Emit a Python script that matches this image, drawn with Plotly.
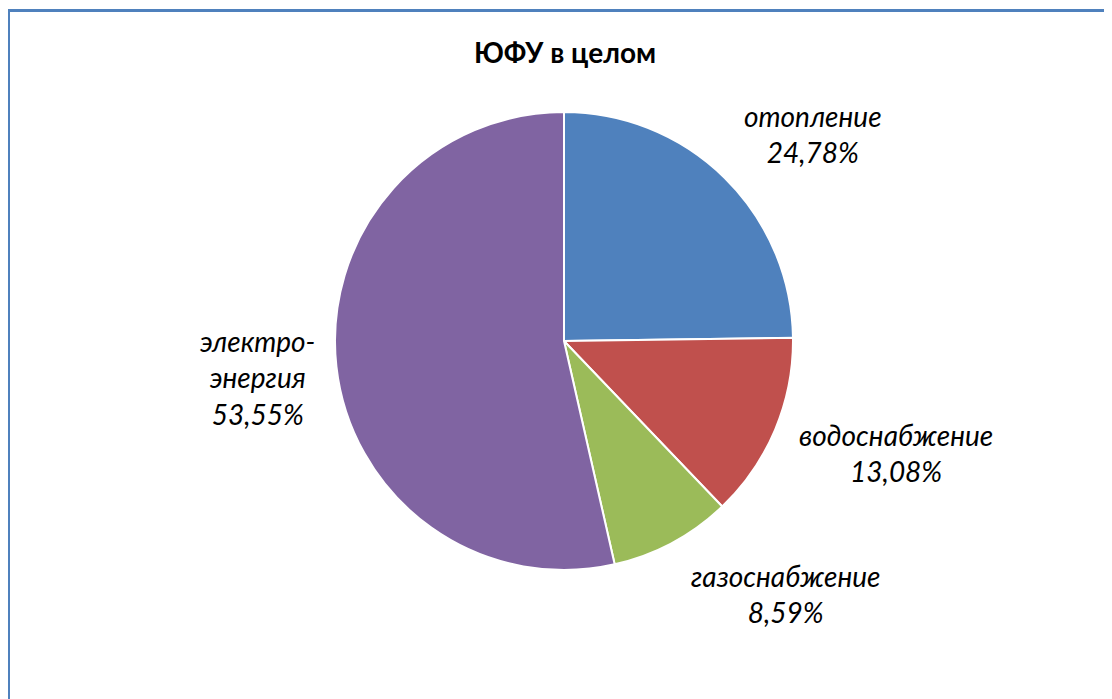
import plotly.graph_objects as go

title = "ЮФУ в целом"
categories = ["отопление", "водоснабжение", "газоснабжение", "электро-<br>энергия"]
values = [24.78, 13.08, 8.59, 53.55]
colors = ["#4F81BD", "#C0504D", "#9BBB59", "#8064A2"]

# page body has an 8px margin, so the figure is drawn 8px in and smaller
OFF = 8
W, H = 1112 - OFF, 699 - OFF
# pie geometry in page pixels (center and radius)
cx, cy, rad = 564, 341, 229


def px(x):
    return (x - OFF) / W


def py(y):
    return 1 - (y - OFF) / H


fig = go.Figure(
    go.Pie(
        labels=categories,
        values=values,
        sort=False,
        direction="clockwise",
        rotation=0,
        textinfo="none",
        hoverinfo="label+percent",
        marker=dict(colors=colors, line=dict(color="white", width=2)),
        domain=dict(x=[px(cx - rad), px(cx + rad)], y=[py(cy + rad), py(cy - rad)]),
        showlegend=False,
    )
)

label_font = dict(family="Lato, Open Sans, sans-serif", size=28, color="black", style="italic")

# label block centers in page pixels
label_pos = [(813, 134), (896, 453), (786, 594), (257, 377)]
for name, v, (lx, ly) in zip(categories, values, label_pos):
    txt = f"{name}<br>{v:.2f}%".replace(".", ",")
    fig.add_annotation(
        x=px(lx), y=py(ly), xref="paper", yref="paper",
        xanchor="center", yanchor="middle",
        text=txt, showarrow=False, align="center",
        font=label_font,
    )

fig.add_annotation(
    x=px(565), y=py(52), xref="paper", yref="paper",
    xanchor="center", yanchor="middle",
    text=f"<b>{title}</b>", showarrow=False,
    font=dict(family="Lato, Open Sans, sans-serif", size=28, color="black"),
)

# chart border (only top and left edges are in view)
border = dict(color="#4F81BD", width=3)
fig.add_shape(type="line", xref="paper", yref="paper",
              x0=px(8), x1=1, y0=py(10.5), y1=py(10.5), line=border)
fig.add_shape(type="line", xref="paper", yref="paper",
              x0=px(8.5), x1=px(8.5), y0=0, y1=py(10.5), line=border)

fig.update_layout(
    width=W,
    height=H,
    margin=dict(l=0, r=0, t=0, b=0),
    paper_bgcolor="white",
    plot_bgcolor="white",
)

fig.write_html("out.html")
